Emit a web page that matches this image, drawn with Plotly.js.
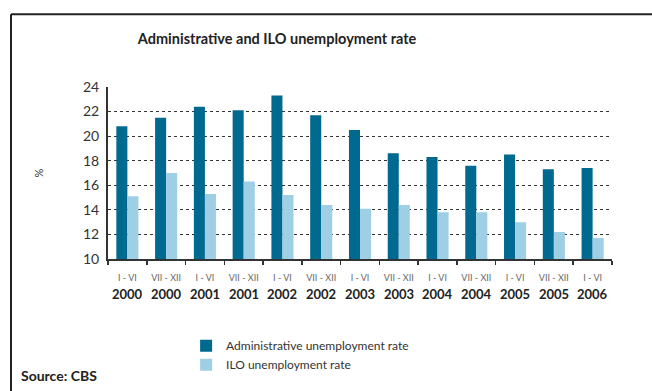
<!DOCTYPE html>
<html>
<head>
<meta charset="utf-8">
<script src="https://cdn.plot.ly/plotly-3.0.1.min.js"></script>
<style>html,body{margin:0;padding:0;background:#fff;} #chart{width:652px;height:391px;}</style>
</head>
<body>
<div id="chart"></div>
<script>
var categories = ["2000 I","2000 II","2001 I","2001 II","2002 I","2002 II","2003 I","2003 II","2004 I","2004 II","2005 I","2005 II","2006 I"];
var periodLabels = ["I - VI","VII - XII","I - VI","VII - XII","I - VI","VII - XII","I - VI","VII - XII","I - VI","VII - XII","I - VI","VII - XII","I - VI"];
var yearLabels = ["2000","2000","2001","2001","2002","2002","2003","2003","2004","2004","2005","2005","2006"];
var adminRate = [20.8,21.5,22.4,22.1,23.3,21.7,20.5,18.6,18.3,17.6,18.5,17.3,17.4];
var iloRate = [15.1,17.0,15.3,16.3,15.2,14.4,14.1,14.4,13.8,13.8,13.0,12.2,11.7];
var yTicks = [10,12,14,16,18,20,22,24];

var FONT = "Lato, 'Open Sans', sans-serif";
var traces = [
  {type:"bar", name:"Administrative unemployment rate", x:categories, y:adminRate,
   marker:{color:"#006990"}},
  {type:"bar", name:"ILO unemployment rate", x:categories, y:iloRate,
   marker:{color:"#9fcfe5"}}
];

var annotations = categories.map(function(c,i){
  return {x:c, xref:"x", y:-0.205, yref:"paper", text:"<b>"+yearLabels[i]+"</b>",
    showarrow:false, font:{family:FONT, size:13, color:"#222"}, yanchor:"middle"};
});
annotations.push({x:(19-108)/504, xref:"paper", y:-0.68, yref:"paper", xanchor:"left", yanchor:"middle",
  text:"<b>Source: CBS</b>", showarrow:false, font:{family:FONT, size:14, color:"#222"}});

var layout = {
  width:652, height:391,
  margin:{l:108, r:40, t:87, b:129},
  paper_bgcolor:"#fff", plot_bgcolor:"#fff",
  font:{family:FONT, color:"#333"},
  title:{text:"<b>Administrative and ILO unemployment rate</b>", x:0.425, xanchor:"center", y:0.9, yanchor:"middle",
    font:{family:FONT, size:14.5, color:"#222"}},
  barmode:"group", bargap:0.43, bargroupgap:0,
  showlegend:true,
  legend:{x:0.155, y:-0.42, xanchor:"left", yanchor:"top", font:{family:FONT, size:12, color:"#333"},
    tracegroupgap:4, bgcolor:"rgba(0,0,0,0)"},
  xaxis:{type:"category", tickvals:categories, ticktext:periodLabels, tickson:"boundaries", tickangle:0,
    ticks:"outside", ticklen:4, tickcolor:"#333", tickwidth:1.5, ticklabelstandoff:9,
    tickfont:{family:FONT, size:9, color:"#666"}, showline:true, linecolor:"#333", linewidth:2,
    showgrid:false, fixedrange:true},
  yaxis:{range:[10,24], tickvals:yTicks, showline:true, linecolor:"#333", linewidth:2,
    ticks:"", ticklabelstandoff:4,
    tickfont:{family:FONT, size:14, color:"#333"},
    showgrid:true, gridcolor:"#333", griddash:"dot", gridwidth:1, zeroline:false,
    title:{text:"%", font:{family:FONT, size:11, color:"#333"}, standoff:37}},
  annotations:annotations,
  shapes:[
    {type:"line", xref:"paper", yref:"paper", x0:(11-108)/504, x1:(660-108)/504, y0:(262-13)/175, y1:(262-13)/175,
     line:{color:"#222", width:2}},
    {type:"line", xref:"paper", yref:"paper", x0:(11-108)/504, x1:(11-108)/504, y0:(262-13)/175, y1:(262-400)/175,
     line:{color:"#222", width:2}}
  ]
};
Plotly.newPlot("chart", traces, layout, {displayModeBar:false, staticPlot:true});
</script>
</body>
</html>
